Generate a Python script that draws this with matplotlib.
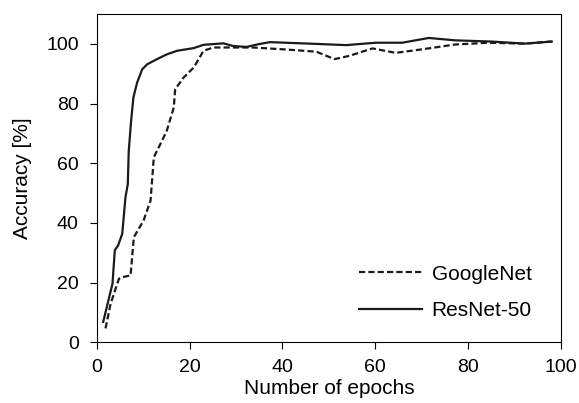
import numpy as np
import matplotlib.pyplot as plt

plt.rcParams['font.family'] = ['Liberation Sans', 'DejaVu Sans']

# GoogleNet accuracy curve
google_epochs = [1.9, 3.0, 4.8, 5.9, 7.3, 8.0, 10.1, 11.6, 12.3, 13.7, 15.1,
                 16.6, 16.9, 18.7, 20.9, 23.0, 25.1, 29.4, 33.7, 40.1, 47.3,
                 51.2, 54.4, 59.4, 64.4, 70.1, 77.2, 84.3, 92.2, 98.0]
google_acc = [4.6, 12.9, 21.3, 21.9, 22.4, 35.2, 40.8, 47.5, 62.0, 66.4, 70.9,
              78.7, 84.8, 88.7, 92.1, 97.7, 98.8, 98.8, 98.8, 98.2, 97.4,
              94.9, 96.0, 98.5, 97.0, 98.2, 99.8, 100.4, 100.1, 100.8]

# ResNet-50 accuracy curve
resnet_epochs = [1.4, 3.4, 3.9, 4.6, 5.5, 6.2, 6.7, 6.9, 7.4, 7.9, 8.7, 9.8,
                 10.9, 13.0, 15.1, 17.3, 20.9, 23.0, 27.3, 29.4, 32.3, 34.8,
                 37.3, 45.8, 53.7, 60.1, 65.8, 71.5, 77.2, 85.0, 92.2, 98.0]
resnet_acc = [6.8, 19.6, 30.8, 32.4, 36.3, 48.6, 53.0, 64.0, 74.0, 82.0, 87.0,
              91.5, 93.2, 94.9, 96.5, 97.7, 98.6, 99.7, 100.2, 99.3, 99.0,
              99.9, 100.6, 100.1, 99.6, 100.4, 100.4, 102.0, 101.2, 100.8,
              100.1, 100.8]

fig = plt.figure(figsize=(5.79, 4.03), dpi=100)
ax = fig.add_axes([0.167, 0.151, 0.802, 0.814])

ax.plot(google_epochs, google_acc, color='#1a1a1a', lw=1.6,
        linestyle=(0, (2.8, 1.4)), label='GoogleNet')
ax.plot(resnet_epochs, resnet_acc, color='#1a1a1a', lw=1.6,
        label='ResNet-50')

ax.set_xlim(0, 100)
ax.set_ylim(0, 110)
ax.set_xticks(np.arange(0, 101, 20))
ax.set_yticks(np.arange(0, 101, 20))
ax.tick_params(direction='out', labelsize=14, length=5, width=0.8)
ax.tick_params(axis='x', pad=7)
ax.tick_params(axis='y', pad=8)
ax.set_xlabel('Number of epochs', fontsize=15, labelpad=2)
ax.set_ylabel('Accuracy [%]', fontsize=15, labelpad=10)
for s in ax.spines.values():
    s.set_linewidth(0.8)

ax.legend(loc='lower right', frameon=False, fontsize=15, handlelength=3.05,
          handletextpad=0.45, labelspacing=0.85, borderaxespad=0,
          bbox_to_anchor=(0.955, 0.041))

fig.savefig('out.png', dpi=100)
